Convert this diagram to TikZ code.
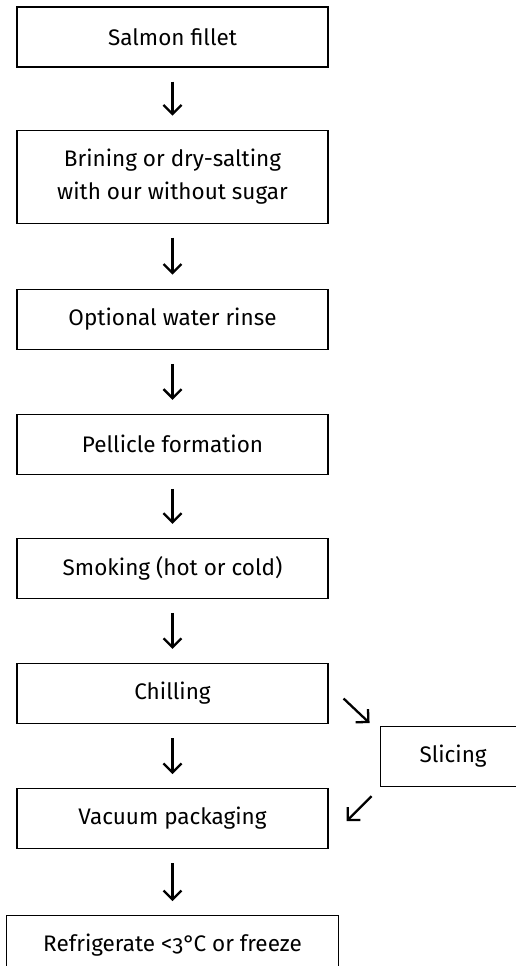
\documentclass[tikz,border=0pt]{standalone}
\usepackage{fontspec}
\setmainfont{Fira Sans}[Numbers=OldStyle]
\usetikzlibrary{positioning,arrows.meta}

\tikzset{
  stepbox/.style={draw, line width=1.1pt, minimum width=311pt, minimum height=60pt,
    align=center, inner sep=0pt, font=\fontsize{22.5}{33}\selectfont},
  flow/.style={-{Straight Barb[length=9pt,width=18pt]}, line width=2.3pt,
    shorten <=14pt, shorten >=14pt},
  diag/.style={-{Straight Barb[length=9pt,width=18pt]}, line width=2.3pt}
}

\begin{document}
\begin{tikzpicture}
  \clip (0,0) rectangle (516pt,-966pt);
  \node[stepbox] (salmon) at (172.5pt,-37pt) {Salmon fillet};
  \node[stepbox, minimum height=93pt, below=62pt of salmon] (brine)
    {Brining or dry-salting\\with our without sugar};
  \node[stepbox, below=65pt of brine] (rinse) {Optional water rinse};
  \node[stepbox, below=64pt of rinse] (pellicle) {Pellicle formation};
  \node[stepbox, below=63pt of pellicle] (smoke) {Smoking (hot or cold)};
  \node[stepbox, below=64pt of smoke] (chill) {Chilling};
  \node[stepbox, below=64pt of chill] (vacuum) {Vacuum packaging};
  \node[stepbox, minimum width=332pt, minimum height=58pt, below=66pt of vacuum] (store)
    {Refrigerate <3°\kern-1.5pt C or freeze};
  \node[stepbox, minimum width=146pt, anchor=north west] (slice)
    at ([xshift=51pt,yshift=-2pt]chill.south east) {Slicing};

  \path[flow]
  (salmon)   edge (brine)
  (brine)    edge (rinse)
  (rinse)    edge (pellicle)
  (pellicle) edge (smoke)
  (smoke)    edge (chill)
  (chill)    edge (vacuum)
  (vacuum)   edge (store)
  ;
  % side branch
  \draw[diag] ([shift={(15pt,-5pt)}]chill.east) -- ([shift={(-10pt,3pt)}]slice.north west);
  \draw[diag] ([shift={(-8pt,-9pt)}]slice.south west) -- ([shift={(18pt,-2.5pt)}]vacuum.east);
\end{tikzpicture}
\end{document}
